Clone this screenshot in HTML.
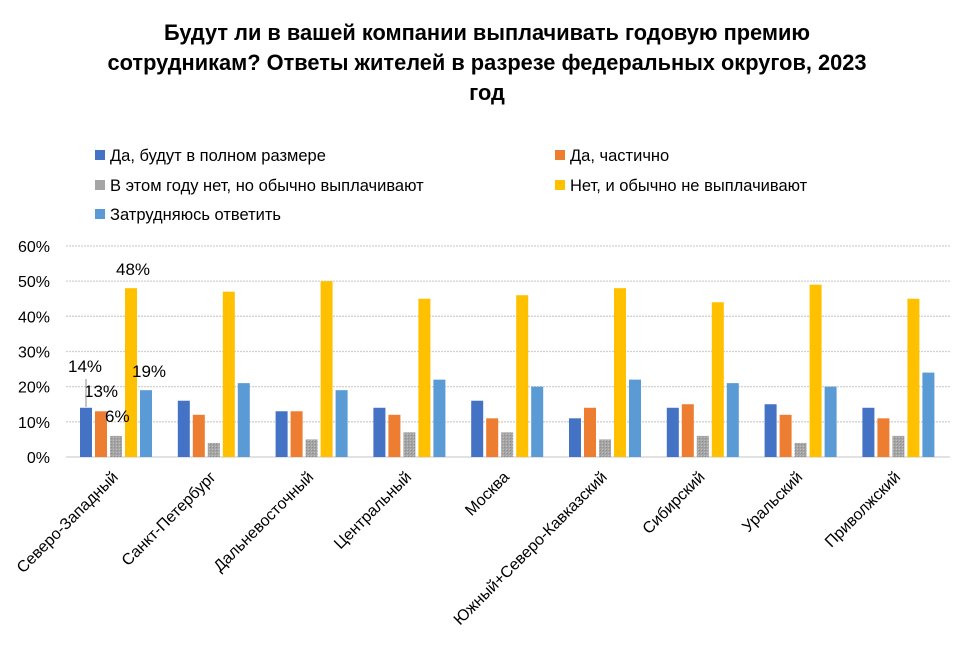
<!DOCTYPE html>
<html><head><meta charset="utf-8"><style>
body{margin:0;background:#fff;font-family:"Liberation Sans",sans-serif;}
svg text{font-family:"Liberation Sans","DejaVu Sans",sans-serif;}
</style></head><body>
<svg id="chart" width="975" height="651">
<defs><pattern id="hatch" width="3" height="3" patternUnits="userSpaceOnUse"><rect width="3" height="3" fill="#a5a5a5"/><rect width="1" height="1" fill="#8c8c8c"/><rect x="2" y="2" width="1" height="1" fill="#c0c0c0"/></pattern></defs>
<g font-size="21.8" font-weight="bold" text-anchor="middle" fill="#000">
<text x="487" y="40">Будут ли в вашей компании выплачивать годовую премию</text>
<text x="487" y="70">сотрудникам? Ответы жителей в разрезе федеральных округов, 2023</text>
<text x="487" y="100">год</text>
</g>
<g id="legend" font-size="16.5" fill="#000"></g>
<g id="grid"></g><g id="bars"></g><g id="labels"></g>
</svg>
<script>
const categories=["Северо-Западный","Санкт-Петербург","Дальневосточный","Центральный","Москва","Южный+Северо-Кавказский","Сибирский","Уральский","Приволжский"];
const seriesNames=["Да, будут в полном размере","Да, частично","В этом году нет, но обычно выплачивают","Нет, и обычно не выплачивают","Затрудняюсь ответить"];
const full=[14,16,13,14,16,11,14,15,14];
const partial=[13,12,13,12,11,14,15,12,11];
const notThisYear=[6,4,5,7,7,5,6,4,6];
const usuallyNot=[48,47,50,45,46,48,44,49,45];
const unsure=[19,21,19,22,20,22,21,20,24];
const yTicks=[0,10,20,30,40,50,60];
const series=[full,partial,notThisYear,usuallyNot,unsure];
const colors=["#4472c4","#ed7d31","url(#hatch)","#ffc000","#5b9bd5"];
const legendColors=["#4472c4","#ed7d31","#a5a5a5","#ffc000","#5b9bd5"];
const NS="http://www.w3.org/2000/svg";
const y0=457,pxPer=35.17/10,gx0=64,gw=97.8;
const y=v=>y0-v*pxPer;
function mk(t,a,p,txt){const e=document.createElementNS(NS,t);for(const k in a)e.setAttribute(k,a[k]);if(txt!=null)e.textContent=txt;p.appendChild(e);return e;}
const grid=document.getElementById('grid'),bars=document.getElementById('bars'),labels=document.getElementById('labels'),leg=document.getElementById('legend');
yTicks.forEach(t=>{
 const l=mk('line',{x1:66,x2:950,y1:y(t),y2:y(t),stroke:'#d0d0d0','stroke-width':1.3,'stroke-dasharray':t===0?'':'2 1'},grid);
 
 
 const tx=mk('text',{x:50,y:y(t)+6,'font-size':16,'text-anchor':'end',fill:'#000'},grid,t+'%');
 
 
});
categories.forEach((c,i)=>{
 series.forEach((s,j)=>{
  const r=mk('rect',{x:gx0+i*gw+16+j*15,y:y(s[i]),width:12,height:s[i]*pxPer,fill:colors[j]},bars);
  
  
 });
 const cx=gx0+i*gw+gw/2+6;
 const t=mk('text',{x:cx,y:478,'font-size':16,'text-anchor':'end',fill:'#000',transform:`rotate(-45 ${cx} 478)`},labels,c);
 
 
});
const dl=[[0,68,372],[1,84,397],[2,105,422],[3,116,275],[4,132,377]];
dl.forEach(([j,x,yy])=>{const t=mk('text',{x:x,y:yy,'font-size':17,fill:'#000'},labels,series[j][0]+'%');
 
 });
mk('line',{x1:86,x2:86,y1:379,y2:407,stroke:'#a0a0a0','stroke-width':1.2},labels);
const lp=[[95,161],[555,161],[95,191],[555,191],[95,220]];
seriesNames.forEach((n,j)=>{
 const g=mk('g',{},leg);
 
 
 mk('rect',{x:lp[j][0],y:lp[j][1]-11,width:10,height:10,fill:legendColors[j]},g);
 mk('text',{x:lp[j][0]+15,y:lp[j][1],'font-size':16.5},g,n);
});
</script>
</body></html>
